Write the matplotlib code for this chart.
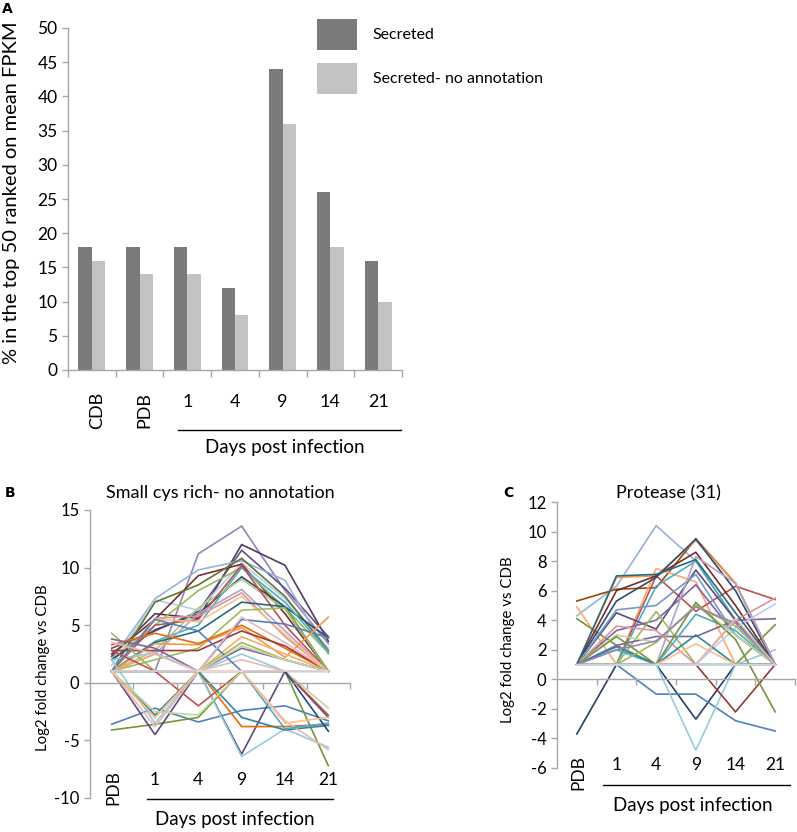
import numpy as np
import matplotlib
matplotlib.use('Agg')
import matplotlib.pyplot as plt

plt.rcParams['font.family'] = ['Lato', 'DejaVu Sans']
plt.rcParams['axes.unicode_minus'] = False

W, H = 797, 832

# panel A: % of top 50 genes (ranked on mean FPKM)
categories = ['CDB', 'PDB', '1', '4', '9', '14', '21']
secreted = [18, 18, 18, 12, 44, 26, 16]
secreted_no_annot = [16, 14, 14, 8, 36, 18, 10]

# panels B and C: log2 fold change vs CDB at PDB, 1, 4, 9, 14, 21 dpi
days = ['PDB', '1', '4', '9', '14', '21']

small_cys = [
    [1.0, 1.0, 11.2, 13.6, 8.0, 3.4],
    [2.3, 6.0, 5.6, 12.0, 10.2, 3.6],
    [3.0, 4.5, 6.2, 11.5, 8.2, 4.0],
    [2.0, 7.3, 9.8, 10.6, 8.9, 2.5],
    [1.5, 7.2, 6.3, 10.4, 7.3, 3.0],
    [2.5, 5.5, 9.3, 10.3, 6.0, 1.0],
    [1.0, 7.0, 8.5, 10.8, 7.5, 2.8],
    [2.0, 5.0, 8.0, 10.0, 6.5, 2.6],
    [2.0, 4.6, 6.0, 9.2, 6.6, 3.9],
    [1.0, 3.6, 5.0, 10.0, 7.0, 2.7],
    [1.0, 2.8, 6.5, 9.0, 6.4, 1.0],
    [1.0, 5.0, 5.5, 10.2, 5.0, 1.0],
    [1.0, 2.5, 6.0, 8.1, 4.5, 1.0],
    [1.0, 5.6, 5.8, 7.8, 4.0, 1.0],
    [1.0, 5.5, 5.3, 7.5, 4.2, 1.0],
    [1.0, 3.5, 4.5, 7.0, 6.6, 1.0],
    [1.0, 2.0, 3.0, 6.3, 6.5, 1.0],
    [1.0, 1.0, 1.0, 5.5, 5.1, 3.9],
    [1.0, 3.4, 3.3, 4.8, 2.2, 5.7],
    [3.3, 4.3, 3.4, 5.0, 3.0, 1.0],
    [2.8, 2.8, 2.8, 4.5, 3.2, 1.0],
    [1.0, 2.5, 1.0, 4.0, 2.5, 1.0],
    [4.3, 1.0, 1.0, 3.5, 2.0, 1.0],
    [3.8, 3.0, 1.0, 3.0, 2.0, 1.0],
    [2.0, 2.6, 1.0, 2.5, 1.0, 1.0],
    [1.0, 1.0, 1.0, 2.0, 1.0, 1.0],
    [1.0, 5.5, 4.5, 1.0, 1.0, 1.0],
    [3.5, 2.5, 1.0, 5.7, 3.5, 1.0],
    [1.0, 1.0, 1.0, 3.2, 2.0, 1.0],
    [-3.6, -2.2, -3.4, -2.4, -2.0, -3.3],
    [-4.1, -3.6, -3.0, 1.0, 1.0, -7.2],
    [1.0, -4.5, 1.0, -6.2, 1.0, -3.0],
    [2.0, -3.5, 1.0, -6.4, -4.0, -5.6],
    [2.8, 1.0, -2.0, 1.0, 1.0, -2.8],
    [1.0, -3.0, 1.0, -3.8, -3.8, -3.6],
    [1.0, -2.8, 1.0, -3.0, -4.1, -3.7],
    [1.0, -3.8, 1.0, 1.0, -3.3, -5.8],
    [1.0, 1.0, 1.0, 1.0, -4.0, -3.5],
    [1.0, -2.5, -2.8, 1.0, 1.0, -2.2],
    [1.0, 1.0, 1.0, 1.0, 1.0, -4.2],
    [1.0, -3.0, 1.0, 1.0, -3.5, -3.0],
    [1.0, 1.0, 1.0, 1.0, 1.0, 1.0],
]
small_cys_colors = [
    '#9983B5', '#4D3B62', '#664F83', '#95B3D7', '#B9CDE5', '#772C2A',
    '#5F7530', '#9BBB59', '#2C4D75', '#4BACC6', '#AFC97A', '#C0504D',
    '#B3A2C7', '#D99694', '#FAC090', '#276A7C', '#9BBB59', '#4F81BD',
    '#F79646', '#E46C0A', '#9F3B38', '#F9AB6B', '#9BBB59', '#8064A2',
    '#93CDDD', '#E6B9B8', '#4F81BD', '#E6B9B8', '#C3D69B',
    '#4F81BD', '#77933C', '#604A7B', '#93CDDD', '#C0504D', '#E46C0A',
    '#31859C', '#E6B9B8', '#4BACC6', '#C3D69B', '#1F497D', '#FAC090',
    '#F2DCDB',
]

protease = [
    [4.3, 6.3, 10.4, 8.0, 4.0, 1.0],
    [5.3, 6.1, 6.2, 9.5, 6.5, 1.0],
    [4.9, 1.0, 7.5, 6.6, 1.0, 1.0],
    [4.1, 2.3, 1.0, 1.0, 1.0, 3.7],
    [-3.7, 1.0, 1.0, -2.7, 1.0, 1.0],
    [1.0, 1.0, -1.0, -1.0, -2.8, -3.5],
    [1.0, 1.0, 1.0, -4.8, 1.0, 2.0],
    [1.0, 1.0, 7.0, 4.6, 6.3, 5.4],
    [1.0, 1.0, 1.0, 1.0, -2.2, 1.0],
    [1.0, 6.9, 7.0, 9.4, 6.5, 1.0],
    [1.0, 6.0, 7.0, 8.6, 5.0, 1.0],
    [1.0, 5.3, 6.9, 9.5, 6.0, 1.0],
    [1.0, 1.0, 6.3, 8.0, 4.0, 1.0],
    [1.0, 4.5, 3.4, 7.4, 4.0, 1.0],
    [1.0, 3.3, 4.0, 6.4, 3.0, 1.0],
    [1.0, 1.0, 4.6, 1.0, 1.0, 1.0],
    [1.0, 4.7, 5.0, 7.1, 3.0, 1.0],
    [1.0, 2.3, 2.9, 2.9, 4.0, 4.1],
    [1.0, 1.0, 1.0, 8.3, 6.5, 1.0],
    [1.0, 3.6, 3.3, 1.0, 4.0, 5.5],
    [1.0, 1.0, 1.0, 1.0, 3.5, 5.1],
    [1.0, 2.0, 1.0, 4.4, 3.3, 1.0],
    [1.0, 2.2, 1.0, 3.0, 1.0, 1.0],
    [1.0, 3.0, 2.5, 5.0, 3.0, 1.0],
    [1.0, 2.9, 1.0, 5.2, 2.7, -2.2],
    [1.0, 1.0, 1.0, 2.4, 1.0, 1.0],
    [1.0, 1.0, 2.5, 5.0, 3.6, 1.0],
    [1.0, 7.0, 7.1, 8.1, 4.5, 1.0],
    [1.0, 2.0, 2.6, 4.9, 3.8, 1.0],
    [1.0, 1.0, 1.0, 1.0, 4.1, 1.0],
    [1.0, 1.0, 1.0, 1.0, 1.0, 1.0],
]
protease_colors = [
    '#95B3D7', '#984807', '#F9AB6B', '#77933C', '#254061', '#4F81BD',
    '#93CDDD', '#C0504D', '#953735', '#F79646', '#772C2A', '#2C4D75',
    '#4BACC6', '#604A7B', '#8064A2', '#9BBB59', '#729ACA', '#8064A2',
    '#B3A2C7', '#D99694', '#B9CDE5', '#4BACC6', '#31859C', '#C3D69B',
    '#77933C', '#FAC090', '#9BBB59', '#276A7C', '#9983B5', '#E6B9B8',
    '#C6D9F1',
]

AXIS_GREY = '#a6a6a6'


def box(x0, y0, x1, y1):
    # pixel box (top-left origin) -> figure fraction rect
    return [x0 / W, 1 - y1 / H, (x1 - x0) / W, (y1 - y0) / H]


def ftext(x, y, s, **kw):
    fig.text(x / W, 1 - y / H, s, **kw)


def hline(x0, x1, y):
    fig.add_artist(plt.Line2D([x0 / W, x1 / W], [1 - y / H, 1 - y / H],
                              color='black', lw=1.0))


def style(ax):
    for s in ['top', 'right']:
        ax.spines[s].set_visible(False)
    for s in ['left', 'bottom']:
        ax.spines[s].set_color(AXIS_GREY)
        ax.spines[s].set_linewidth(1.0)
    ax.tick_params(color=AXIS_GREY, labelcolor='black', length=4, width=1.0)


fig = plt.figure(figsize=(W / 100, H / 100), dpi=100)

# ---------------- A ----------------
axA = fig.add_axes(box(68, 28, 402, 370))
xa = np.arange(len(categories))
axA.bar(xa - 0.14, secreted, 0.28, color='#7a7a7a', label='Secreted')
axA.bar(xa + 0.14, secreted_no_annot, 0.28, color='#c3c3c3',
        label='Secreted- no annotation')
axA.set_xlim(-0.5, len(categories) - 0.5)
axA.set_ylim(0, 50)
axA.set_yticks(range(0, 51, 5))
axA.set_xticks(np.arange(-0.5, len(categories), 1))
axA.set_xticklabels([])
style(axA)
axA.tick_params(axis='y', labelsize=12.5)
axA.tick_params(axis='x', length=5)
trA = axA.get_xaxis_transform()
for i, lab in enumerate(categories):
    if lab in ('CDB', 'PDB'):
        axA.text(i + 0.1, -22 / 342, lab, transform=trA, rotation=90,
                 ha='center', va='top', fontsize=13)
    else:
        axA.text(i, -32 / 342, lab, transform=trA, ha='center', va='center',
                 fontsize=13)
axA.legend(loc='upper left', bbox_to_anchor=(317 / W, 1 - 19 / H),
           bbox_transform=fig.transFigure, frameon=False, fontsize=11.5,
           handlelength=2.5, handleheight=2.6, labelspacing=0.8,
           handletextpad=1.0, borderpad=0, borderaxespad=0)
hline(178, 401, 430)
ftext(285, 448, 'Days post infection', ha='center', va='center', fontsize=13.5)
ftext(12, 193, '% in the top 50 ranked on mean FPKM', rotation=90,
      ha='center', va='center', fontsize=14.5)
ftext(2, 9, 'A', fontsize=10, fontweight='bold', va='center', ha='left',
      family='DejaVu Sans')


def spaghetti(ax, series, colors, ylim, yticks, ax_h, lab_y, pdb_y):
    xs = np.arange(len(days))
    for vals, c in zip(series, colors):
        ax.plot(xs, vals, color=c, lw=1.2, solid_joinstyle='miter')
    ax.set_xlim(-0.5, len(days) - 0.5)
    ax.set_ylim(*ylim)
    ax.set_yticks(yticks)
    ax.spines['bottom'].set_position(('data', 0))
    ax.set_xticks(np.arange(0.5, len(days), 1))
    ax.set_xticklabels([])
    style(ax)
    ax.tick_params(axis='y', labelsize=12)
    tr = ax.get_xaxis_transform()
    for i, lab in enumerate(days):
        if lab == 'PDB':
            ax.text(i + 0.05, pdb_y / ax_h, lab, transform=tr, rotation=90,
                    ha='center', va='top', fontsize=12.5)
        else:
            ax.text(i, lab_y / ax_h, lab, transform=tr, ha='center',
                    va='center', fontsize=12.5)


# ---------------- B ----------------
axB = fig.add_axes(box(90, 510, 350, 798))
spaghetti(axB, small_cys, small_cys_colors, (-10, 15), range(-10, 16, 5),
          288, 18, 28)
hline(147, 333, 799)
ftext(235, 820, 'Days post infection', ha='center', va='center', fontsize=13.5)
ftext(220, 493, 'Small cys rich- no annotation', ha='center', va='center',
      fontsize=13)
ftext(43, 668, 'Log2 fold change vs CDB', rotation=90, ha='center',
      va='center', fontsize=10.8)
ftext(5, 493, 'B', fontsize=10, fontweight='bold', va='center', ha='left',
      family='DejaVu Sans')

# ---------------- C ----------------
axC = fig.add_axes(box(557, 502, 795, 768))
spaghetti(axC, protease, protease_colors, (-6, 12), range(-6, 13, 2),
          266, 3, 13)
hline(603, 790, 785)
ftext(693, 806, 'Days post infection', ha='center', va='center', fontsize=13.5)
ftext(668, 493, 'Protease (31)', ha='center', va='center', fontsize=13)
ftext(508, 640, 'Log2 fold change vs CDB', rotation=90, ha='center',
      va='center', fontsize=10.8)
ftext(503, 493, 'C', fontsize=10, fontweight='bold', va='center', ha='left',
      family='DejaVu Sans')

fig.savefig('out.png', dpi=100)
